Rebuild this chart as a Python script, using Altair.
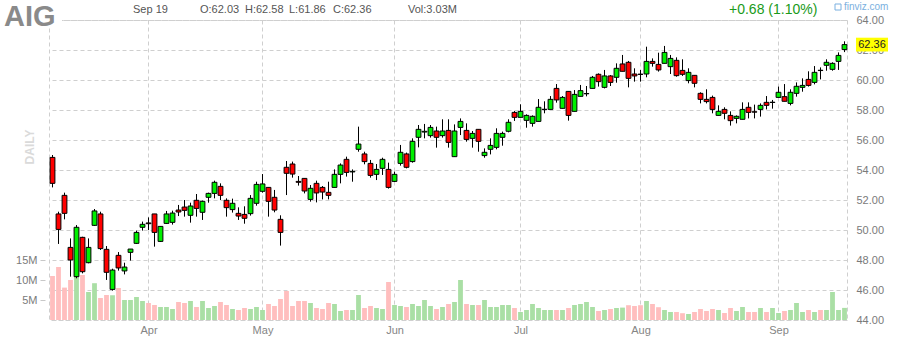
import altair as alt
import pandas as pd

# ---- data (AIG daily, Mar 10 - Sep 19) ----
opens = [54.84, 51.07, 52.31, 48.84, 46.89, 49.51, 47.82, 50.31, 51.07, 48.71,
         46.04, 48.31, 47.27, 48.51, 49.11, 50.18, 50.47, 51.07, 49.24, 50.44,
         50.51, 51.33, 51.53, 50.98, 51.98, 51.18, 52.18, 52.44, 52.91, 51.98,
         51.36, 51.11, 51.04, 51.09, 51.78, 52.58, 52.84, 52.18, 50.71, 54.18,
         54.40, 53.24, 53.44, 52.04, 53.11, 52.84, 52.51, 52.84, 53.71, 54.71,
         53.87, 55.38, 55.07, 54.44, 53.71, 54.11, 54.04, 53.24, 54.44, 55.07,
         54.56, 56.18, 56.53, 56.29, 56.60, 56.29, 56.64, 54.89, 56.84, 56.64,
         56.11, 56.71, 54.96, 55.38, 55.51, 56.18, 56.58, 57.84, 57.51, 57.31,
         57.11, 57.24, 58.03, 58.04, 59.44, 58.11, 59.24, 57.91, 58.91, 59.08,
         59.44, 60.38, 59.51, 60.27, 60.18, 61.07, 61.18, 60.40, 60.39, 60.40,
         61.24, 61.04, 61.11, 60.89, 61.31, 60.64, 59.96, 60.31, 59.11, 58.71,
         58.84, 57.64, 58.04, 57.64, 57.44, 57.38, 58.18, 57.88, 58.04, 58.51,
         58.50, 58.84, 58.89, 58.44, 59.11, 59.51, 60.04, 59.84, 60.65, 60.98,
         60.71, 61.24, 62.03]
highs = [55.00, 51.22, 52.49, 49.44, 50.33, 49.55, 49.44, 51.40, 51.22, 48.93,
         47.42, 48.53, 47.82, 48.73, 49.96, 50.56, 50.84, 51.07, 50.24, 51.27,
         51.29, 51.67, 52.00, 51.82, 52.40, 51.96, 52.49, 53.29, 53.11, 52.11,
         52.09, 51.51, 51.58, 52.33, 53.22, 53.73, 52.84, 52.67, 50.98, 54.60,
         54.56, 53.60, 53.44, 53.00, 53.29, 52.93, 53.22, 54.04, 54.44, 54.89,
         54.04, 56.89, 55.22, 54.67, 54.40, 54.82, 54.49, 53.89, 55.67, 55.16,
         56.11, 57.00, 57.07, 57.00, 56.89, 57.38, 57.38, 57.04, 57.44, 57.11,
         56.60, 56.71, 55.44, 56.11, 56.78, 56.56, 57.38, 57.93, 58.38, 57.71,
         57.64, 58.73, 58.58, 58.93, 59.73, 58.93, 59.24, 59.33, 59.67, 59.60,
         60.27, 60.44, 60.67, 60.33, 61.11, 61.67, 61.27, 60.78, 60.67, 62.22,
         61.44, 61.82, 62.27, 61.67, 61.51, 61.38, 60.78, 60.31, 59.18, 59.38,
         58.96, 58.31, 58.18, 57.91, 57.64, 58.51, 58.51, 58.36, 58.44, 58.93,
         58.67, 59.56, 59.73, 59.38, 59.84, 60.11, 60.58, 60.93, 60.84, 61.38,
         61.18, 61.84, 62.58]
lows = [52.84, 49.07, 50.71, 46.89, 46.78, 47.11, 47.78, 50.27, 48.67, 46.67,
        45.96, 47.29, 47.04, 47.96, 49.07, 49.96, 50.00, 48.89, 49.20, 50.40,
        50.36, 50.93, 50.89, 50.49, 50.89, 50.67, 51.82, 52.11, 52.00, 50.89,
        51.16, 50.67, 50.42, 50.96, 51.62, 52.49, 50.89, 51.18, 48.96, 52.33,
        53.49, 52.96, 52.44, 51.89, 51.84, 52.04, 52.04, 52.84, 53.11, 53.56,
        53.22, 55.22, 54.38, 53.49, 53.33, 53.67, 52.76, 53.20, 54.29, 54.11,
        54.49, 55.51, 56.11, 56.16, 55.49, 56.16, 55.49, 54.89, 56.33, 55.89,
        55.49, 55.22, 54.82, 55.04, 55.38, 55.62, 56.51, 57.27, 57.51, 56.82,
        56.89, 57.24, 57.78, 58.04, 58.49, 58.11, 57.29, 57.91, 58.91, 58.91,
        59.44, 59.56, 59.44, 59.60, 59.82, 60.58, 59.51, 59.89, 59.89, 60.18,
        60.89, 60.56, 61.11, 60.40, 60.22, 60.27, 59.78, 59.51, 58.44, 58.44,
        57.78, 57.64, 57.38, 56.96, 57.11, 57.38, 57.44, 57.44, 57.56, 58.04,
        58.09, 58.84, 58.58, 58.31, 58.89, 59.22, 59.56, 59.71, 60.04, 60.62,
        60.62, 60.67, 61.86]
closes = [53.11, 50.04, 51.11, 48.00, 50.18, 47.22, 48.84, 51.27, 48.76, 47.18,
          47.33, 47.47, 47.53, 48.73, 49.84, 50.38, 50.42, 49.84, 50.24, 51.07,
          51.13, 51.20, 51.31, 51.60, 51.44, 51.91, 52.44, 53.18, 52.31, 51.49,
          51.78, 50.93, 50.78, 52.11, 53.04, 53.07, 51.91, 51.33, 49.84, 53.78,
          53.73, 53.18, 52.60, 52.78, 52.47, 52.53, 52.31, 53.71, 54.33, 53.84,
          53.91, 55.73, 54.56, 53.64, 54.04, 54.71, 52.84, 53.71, 55.18, 54.18,
          55.91, 56.71, 56.58, 56.84, 56.18, 56.60, 55.84, 56.60, 57.24, 56.04,
          56.44, 55.91, 55.18, 55.64, 56.44, 56.44, 57.18, 57.51, 57.91, 57.64,
          57.58, 58.18, 58.05, 58.71, 58.67, 58.84, 57.64, 59.04, 59.29, 59.10,
          60.18, 59.89, 60.27, 59.84, 60.78, 60.58, 60.11, 60.27, 60.37, 61.24,
          61.11, 60.67, 61.84, 61.44, 60.29, 60.38, 60.51, 59.78, 58.71, 58.56,
          58.04, 57.91, 57.78, 57.29, 57.58, 58.04, 57.84, 57.86, 58.31, 58.31,
          58.52, 59.18, 58.58, 59.18, 59.58, 59.64, 59.64, 60.51, 60.63, 61.18,
          61.11, 61.64, 62.36]
volumes_m = [11.0, 13.25, 8.1, 10.0, 10.8, 11.25, 7.0, 9.2, 5.5, 6.25,
             6.2, 8.0, 5.0, 5.0, 5.75, 4.75, 4.25, 3.75, 3.25, 3.25,
             2.75, 4.5, 4.25, 4.75, 3.25, 4.75, 3.0, 3.5, 4.5, 3.75,
             2.75, 2.5, 3.0, 2.75, 3.25, 2.5, 4.0, 3.5, 5.25, 7.25,
             3.5, 4.75, 4.75, 4.25, 3.0, 2.75, 4.25, 4.0, 2.25, 2.5,
             2.5, 6.25, 3.0, 3.5, 3.0, 2.75, 9.5, 3.75, 3.5, 3.25,
             4.0, 3.5, 5.0, 3.5, 2.75, 3.25, 4.0, 4.5, 10.0, 4.0,
             3.75, 3.75, 5.0, 3.25, 3.25, 3.75, 3.75, 3.0, 2.0, 2.5,
             4.0, 3.0, 2.5, 2.5, 2.5, 2.5, 3.0, 3.75, 4.0, 4.5,
             3.25, 2.25, 2.5, 2.75, 3.0, 3.1, 3.7, 3.5, 3.7, 4.75,
             4.0, 3.2, 2.5, 2.0, 2.0, 1.7, 1.5, 2.0, 2.75, 2.25,
             2.75, 2.5, 1.75, 3.0, 2.25, 3.25, 2.0, 2.0, 3.0, 2.0,
             3.0, 1.75, 2.25, 2.5, 4.25, 2.0, 2.5, 2.0, 2.5, 2.5,
             7.0, 2.5, 3.03]
# bars whose volume colour differs from the candle colour in the picture
volume_up_overrides = [95]

month_ticks = [16, 35, 57, 78, 98, 121]
month_labels = ["Apr", "May", "Jun", "Jul", "Aug", "Sep"]
price_ticks = [44, 46, 48, 50, 52, 54, 56, 58, 60, 62, 64]
volume_ticks = [5, 10, 15]

header_date = "Sep 19"
header_ohlc = ["O:62.03", "H:62.58", "L:61.86", "C:62.36"]
header_vol = "Vol:3.03M"
header_change = "+0.68 (1.10%)"

# ---- build table ----
n = len(closes)
GREEN, RED = "#00f000", "#ff0000"
VGREEN, VPINK = "#aadfa5", "#ffbebe"
rows = []
for i in range(n):
    up = closes[i] >= opens[i]
    vup = up or (i in volume_up_overrides)
    rows.append(dict(i=i, open=opens[i], high=highs[i], low=lows[i], close=closes[i],
                     vol=volumes_m[i], ccol=GREEN if up else RED,
                     vcol=VGREEN if vup else VPINK))
df = pd.DataFrame(rows)

FONT = "Liberation Sans"
W, H = 798, 300
PADL = 49

xscale = alt.Scale(domain=[-0.5833333, n - 0.5833333], nice=False, zero=False)
month_expr = "[" + ",".join("'%s'" % m for m in month_labels) + "][indexof([" + \
    ",".join(str(t) for t in month_ticks) + "], datum.value)]"
xaxis = alt.Axis(values=month_ticks, labelExpr=month_expr, title=None, grid=True,
                 gridDash=[4, 3], gridColor="#cfcfcf", domain=False, ticks=False,
                 labelPadding=4, labelColor="#858585", labelFontSize=11, labelFont=FONT,
                 labelFlush=False)
pscale = alt.Scale(domain=[44, 64], nice=False, zero=False)
paxis = alt.Axis(values=price_ticks, format=".2f", title=None, orient="right", grid=True,
                 gridDash=[4, 3], gridColor="#cfcfcf", domain=False, ticks=False,
                 labelPadding=9, labelColor="#7a7a7a", labelFontSize=11, labelFont=FONT,
                 labelFlush=False)
vscale = alt.Scale(domain=[0, 75], nice=False, zero=True)
vaxis = alt.Axis(values=volume_ticks, labelExpr="datum.value + 'M'", title=None, orient="left",
                 grid=False, domain=False, ticks=True, tickSize=5, tickColor="#c8c8c8",
                 offset=4, labelPadding=3, labelColor="#7a7a7a", labelFontSize=11,
                 labelFont=FONT, labelFlush=False)

base = alt.Chart(df).transform_calculate(x0="datum.i - 0.4", x1="datum.i + 0.4")

vol_layer = base.mark_rect().encode(
    x=alt.X("x0:Q", scale=xscale, axis=xaxis),
    x2="x1:Q",
    y=alt.Y("vol:Q", scale=vscale, axis=vaxis),
    y2=alt.datum(0),
    fill=alt.Fill("vcol:N", scale=None),
)

wicks = base.mark_rule(color="black", strokeWidth=1).encode(
    x=alt.X("i:Q", scale=xscale, axis=xaxis),
    y=alt.Y("low:Q", scale=pscale, axis=paxis),
    y2="high:Q",
)
bodies = base.mark_rect(stroke="black", strokeWidth=1).encode(
    x=alt.X("x0:Q", scale=xscale, axis=xaxis),
    x2="x1:Q",
    y=alt.Y("open:Q", scale=pscale, axis=paxis),
    y2="close:Q",
    fill=alt.Fill("ccol:N", scale=None),
)
last = alt.Chart(df.tail(1)).transform_calculate(
    hi="datum.close + 0.46", lo="datum.close - 0.46")
last_box = last.mark_rect(fill="#ffff00").encode(
    x=alt.value(856 - PADL), x2=alt.value(888 - PADL),
    y=alt.Y("hi:Q", scale=pscale, axis=paxis), y2="lo:Q")
last_txt = last.mark_text(font=FONT, fontSize=11, color="#222", align="center",
                          baseline="middle").encode(
    x=alt.value(872 - PADL), y=alt.Y("close:Q", scale=pscale, axis=paxis),
    text=alt.Text("close:Q", format=".2f"))

price_group = alt.layer(wicks, bodies, last_box, last_txt)

one = pd.DataFrame({"a": [0]})


def txt(s, x, y, **kw):
    return alt.Chart(one).mark_text(text=s, font=FONT, baseline="middle", **kw).encode(
        x=alt.value(x - PADL), y=alt.value(y - 20))


cover = alt.Chart(one).mark_rect(fill="white").encode(
    x=alt.value(3 - PADL), x2=alt.value(62 - PADL), y=alt.value(3 - 20), y2=alt.value(28 - 20))
logo_box = alt.Chart(one).mark_rect(fill="white", stroke="#7ab0e0", strokeWidth=1).encode(
    x=alt.value(835 - PADL), x2=alt.value(841 - PADL), y=alt.value(4 - 20), y2=alt.value(10 - 20))

texts = [
    cover,
    txt("AIG", 4, 17, fontSize=29, fontWeight="bold", color="#8a8a8a", align="left"),
    txt("DAILY", 30, 147, fontSize=12, fontWeight="bold", color="#dadada", align="center", angle=270),
    txt(header_date, 133, 10, fontSize=11, color="#555555", align="left"),
    txt(header_ohlc[0], 200, 10, fontSize=11, color="#555555", align="left"),
    txt(header_ohlc[1], 245, 10, fontSize=11, color="#555555", align="left"),
    txt(header_ohlc[2], 289, 10, fontSize=11, color="#555555", align="left"),
    txt(header_ohlc[3], 333, 10, fontSize=11, color="#555555", align="left"),
    txt(header_vol, 408, 10, fontSize=11, color="#555555", align="left"),
    txt(header_change, 729, 10, fontSize=14, color="#1a9a1a", align="left"),
    logo_box,
    txt("finviz.com", 844, 7, fontSize=10, color="#7ab0e0", align="left"),
]

chart = alt.layer(vol_layer, price_group, *texts).resolve_scale(y="independent").properties(
    width=W, height=H, autosize="none",
    padding={"left": PADL, "top": 20, "right": 898 - PADL - W, "bottom": 20},
    background="white",
).configure_view(stroke="#cfcfcf", strokeDash=[4, 3])

chart.save("out.html", embed_options={"renderer": "svg", "actions": False})
